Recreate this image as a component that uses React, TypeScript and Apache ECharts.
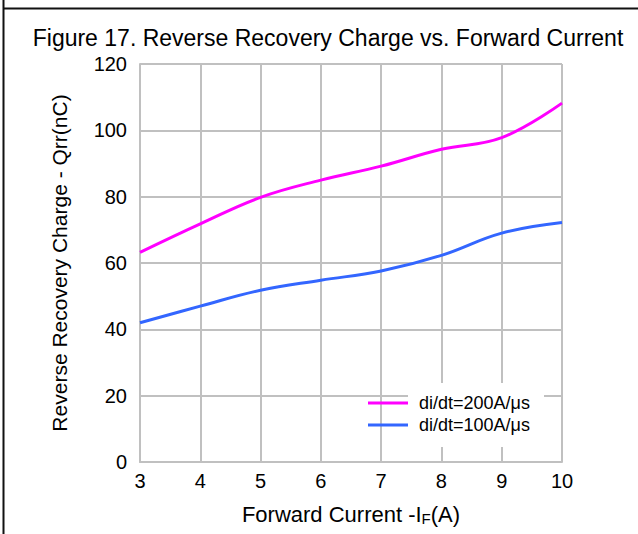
import React, { useEffect, useRef } from "react";
import * as echarts from "echarts";

const xValues = [3, 4, 5, 6, 7, 8, 9, 10];
const q200 = [63.2, 71.8, 79.8, 85, 89.2, 94.3, 97.8, 108.2];
const q100 = [42, 47, 51.8, 54.8, 57.6, 62.3, 69, 72.2];
const seriesNames = ["di/dt=200A/\u03bcs", "di/dt=100A/\u03bcs"];
const yTicks = [0, 20, 40, 60, 80, 100, 120];

export default function App() {
  const ref = useRef<HTMLDivElement>(null);
  useEffect(() => {
    const chart = echarts.init(ref.current!, null, { renderer: "svg" });
    const font = "'Liberation Sans', Arial, sans-serif";
    chart.setOption({
      animation: false,
      backgroundColor: "#ffffff",
      title: {
        text: "Figure 17. Reverse Recovery Charge vs. Forward Current",
        left: 323,
        textAlign: "center",
        top: 21,
        textStyle: { fontFamily: font, fontSize: 23, fontWeight: "normal", color: "#000" },
      },
      grid: { left: 140, right: 76, top: 64, bottom: 72 },
      xAxis: {
        type: "value",
        min: 3,
        max: 10,
        interval: 1,
        name: "Forward Current -{i|I}{s|F}{i|(A)}",
        nameLocation: "middle",
        nameGap: 40,
        nameTextStyle: {
          fontFamily: font,
          fontSize: 22,
          color: "#000",
          rich: {
            i: { fontFamily: font, fontSize: 22, color: "#000" },
            s: { fontFamily: font, fontSize: 15, color: "#000", verticalAlign: "bottom", padding: [9, 0, 0, 0] },
          },
        },
        axisLine: { show: true, lineStyle: { color: "#c0c0c0", width: 2 } },
        axisTick: { show: false },
        axisLabel: { fontFamily: font, fontSize: 20, color: "#000", margin: 9 },
        splitLine: { show: true, lineStyle: { color: "#c0c0c0", width: 2 } },
      },
      yAxis: {
        type: "value",
        min: yTicks[0],
        max: yTicks[yTicks.length - 1],
        interval: 20,
        name: "Reverse Recovery Charge - Qrr(nC)",
        nameLocation: "middle",
        nameGap: 70,
        nameTextStyle: { fontFamily: font, fontSize: 21, color: "#000" },
        axisLine: { show: true, lineStyle: { color: "#c0c0c0", width: 2 } },
        axisTick: { show: false },
        axisLabel: { fontFamily: font, fontSize: 20, color: "#000", margin: 13 },
        splitLine: { show: true, lineStyle: { color: "#c0c0c0", width: 2 } },
      },
      legend: {
        data: seriesNames,
        orient: "vertical",
        left: 363,
        top: 388,
        itemWidth: 40,
        itemHeight: 3,
        itemGap: 2,
        icon: "rect",
        textStyle: { fontFamily: font, fontSize: 18, lineHeight: 20, color: "#000", padding: [0, 0, 0, 6] },
      },
      graphic: [
        { type: "rect", z: 1, shape: { x: 408, y: 383, width: 136, height: 64 }, style: { fill: "#fff" } },
        { type: "line", z: 100, shape: { x1: 3.5, y1: 0, x2: 3.5, y2: 534 }, style: { stroke: "#111", lineWidth: 2 } },
        { type: "line", z: 100, shape: { x1: 3, y1: 8.5, x2: 638, y2: 8.5 }, style: { stroke: "#111", lineWidth: 2 } },
      ],
      series: [
        {
          name: seriesNames[0],
          type: "line",
          smooth: 0.4,
          showSymbol: false,
          data: xValues.map((x, i) => [x, q200[i]]),
          lineStyle: { color: "#ff00ff", width: 3 },
          itemStyle: { color: "#ff00ff" },
        },
        {
          name: seriesNames[1],
          type: "line",
          smooth: 0.4,
          showSymbol: false,
          data: xValues.map((x, i) => [x, q100[i]]),
          lineStyle: { color: "#3366ff", width: 3 },
          itemStyle: { color: "#3366ff" },
        },
      ],
    });
    return () => chart.dispose();
  }, []);
  return <div ref={ref} style={{ position: "absolute", left: 0, top: 0, width: 638, height: 534 }} />;
}
